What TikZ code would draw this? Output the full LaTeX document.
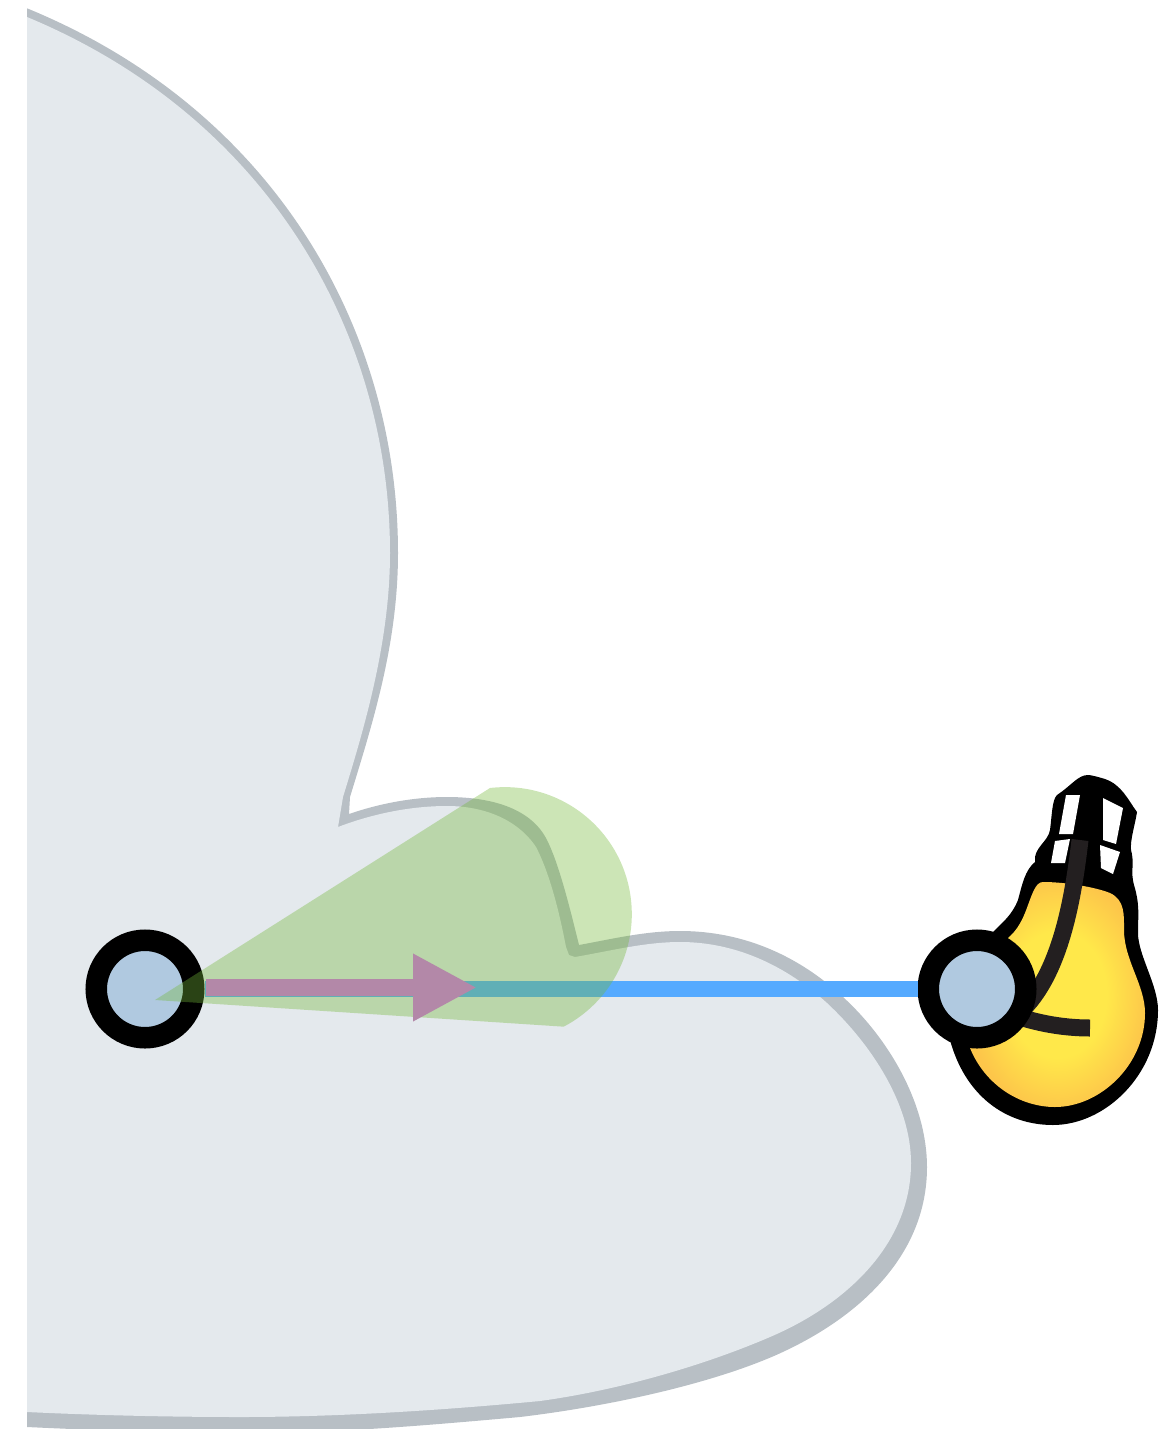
\documentclass[tikz,border=0pt]{standalone}
\usetikzlibrary{arrows.meta}
\usetikzlibrary{positioning}

\definecolor{blobfill}{HTML}{E4E9ED}
\definecolor{blobline}{HTML}{B8BFC5}
\definecolor{nodefill}{HTML}{B0C9E0}
\definecolor{beamblue}{HTML}{55AAFF}
\definecolor{conegreen}{RGB}{116,184,57}
\definecolor{pointer}{HTML}{B388A8}
\definecolor{wirecolor}{HTML}{231F20}
\definecolor{bulbmid}{HTML}{FFE84A}
\definecolor{bulbrim}{HTML}{FDC64A}

\pgfdeclareradialshading{bulbglow}{\pgfpointorigin}{color(0bp)=(bulbmid); color(14bp)=(bulbmid); color(26bp)=(bulbrim); color(50bp)=(bulbrim)}

\tikzset{
    endpoint/.style={circle, draw=black, fill=nodefill, line width=10.75pt, minimum size=48.75pt, inner sep=0pt},
    beam/.style={draw=beamblue, line width=8pt},
    cone/.style={fill=conegreen, fill opacity=0.37},
    heading/.style={draw=pointer, line width=8.5pt, -{Triangle[length=32pt, width=31.5pt]}},
    wire/.style={draw=wirecolor, line width=8.5pt}
}

\begin{document}
\begin{tikzpicture}[x=0.5pt, y=-0.5pt]

\clip (0,0) rectangle (1158,1429);

% outer edge of the region
\fill[blobline] (27,8.3) .. controls (275,110) and (398,330) .. (398,553)
    .. controls (398,645) and (372,725) .. (350,797) -- (349,814)
    .. controls (378,804) and (412,797) .. (447,797)
    .. controls (495,797) and (532,810) .. (547,840)
    .. controls (558,862) and (568,900) .. (579,945)
    .. controls (612,939) and (645,931) .. (680,931)
    .. controls (745,931) and (800,957) .. (843,997)
    .. controls (890,1040) and (927,1105) .. (927,1167)
    .. controls (927,1255) and (860,1315) .. (787,1350)
    .. controls (725,1380) and (620,1405) .. (520,1417)
    .. controls (430,1425) and (340,1433) .. (250,1433)
    .. controls (170,1433) and (90,1430) .. (27,1427) -- cycle;
% inner face of the region
\fill[blobfill] (27,17) .. controls (270,118) and (390,335) .. (390,553)
    .. controls (390,645) and (362,735) .. (343,797) -- (338,827)
    .. controls (372,814) and (410,806) .. (447,806)
    .. controls (485,806) and (518,820) .. (536,847)
    .. controls (548,870) and (558,905) .. (566,947)
    -- (569,955) -- (575,957)
    .. controls (610,951) and (645,942) .. (680,942)
    .. controls (735,942) and (785,965) .. (827,1003)
    .. controls (872,1045) and (911,1105) .. (911,1163)
    .. controls (911,1245) and (845,1305) .. (770,1337)
    .. controls (705,1365) and (620,1390) .. (540,1401)
    .. controls (445,1410) and (340,1417) .. (241,1417)
    .. controls (165,1417) and (90,1415) .. (27,1412) -- cycle;

% lamp
\fill[black] (950,1040) .. controls (965,1095) and (1005,1125) .. (1053,1125)
    .. controls (1105,1125) and (1158,1075) .. (1158,1010)
    .. controls (1158,985) and (1138,955) .. (1138,933)
    .. controls (1138,915) and (1140,905) .. (1134,885)
    .. controls (1130,870) and (1135,865) .. (1131,850)
    .. controls (1130,840) and (1135,825) .. (1137,812)
    .. controls (1128,800) and (1122,785) .. (1105,779)
    .. controls (1095,776) and (1090,775) .. (1088,775)
    .. controls (1078,775) and (1072,785) .. (1057,795)
    .. controls (1052,800) and (1052,815) .. (1050,830)
    .. controls (1048,842) and (1033,848) .. (1035,862)
    .. controls (1025,870) and (1022,885) .. (1018,900)
    .. controls (1012,915) and (1003,922) .. (993,932) -- (960,980) -- cycle;
\shade[shading=bulbglow] (970,1048) .. controls (985,1085) and (1020,1107) .. (1055,1107)
    .. controls (1100,1107) and (1145,1065) .. (1145,1013)
    .. controls (1145,985) and (1124,960) .. (1124,930)
    .. controls (1124,915) and (1125,900) .. (1110,893)
    .. controls (1095,887) and (1065,882) .. (1043,882)
    .. controls (1035,882) and (1032,895) .. (1025,913)
    .. controls (1020,925) and (1015,932) .. (1008,938) -- (985,990) -- cycle;
\foreach \ax/\ay/\bx/\by/\cx/\cy/\dx/\dy in {1066/795/1080/795/1073/834/1059/834, 1103/798/1123/808/1116/844/1103/840, 1055/841/1070/839/1065/863/1051/863, 1100/845/1120/852/1113/874/1101/868}
    \fill[white] (\ax,\ay) -- (\bx,\by) -- (\cx,\cy) -- (\dx,\dy) -- cycle;
\draw[wire] (1080,840) .. controls (1073,900) and (1060,975) .. (1020,1012);
\draw[wire] (1000,1010) .. controls (1030,1022) and (1060,1028) .. (1090,1028);

\node[endpoint] (source) at (145,989) {};
\node[endpoint] (target) at (977,989) {};
\coordinate (tail) at (206,987.5);
\coordinate (tip) at (477,987.5);

\draw[beam] (source) -- (target);

\fill[cone] (155,1000) -- (490,788) arc[start angle=-96.7, end angle=62.4, radius=127] -- cycle;
\draw[heading] (tail) -- (tip);

\end{tikzpicture}
\end{document}
